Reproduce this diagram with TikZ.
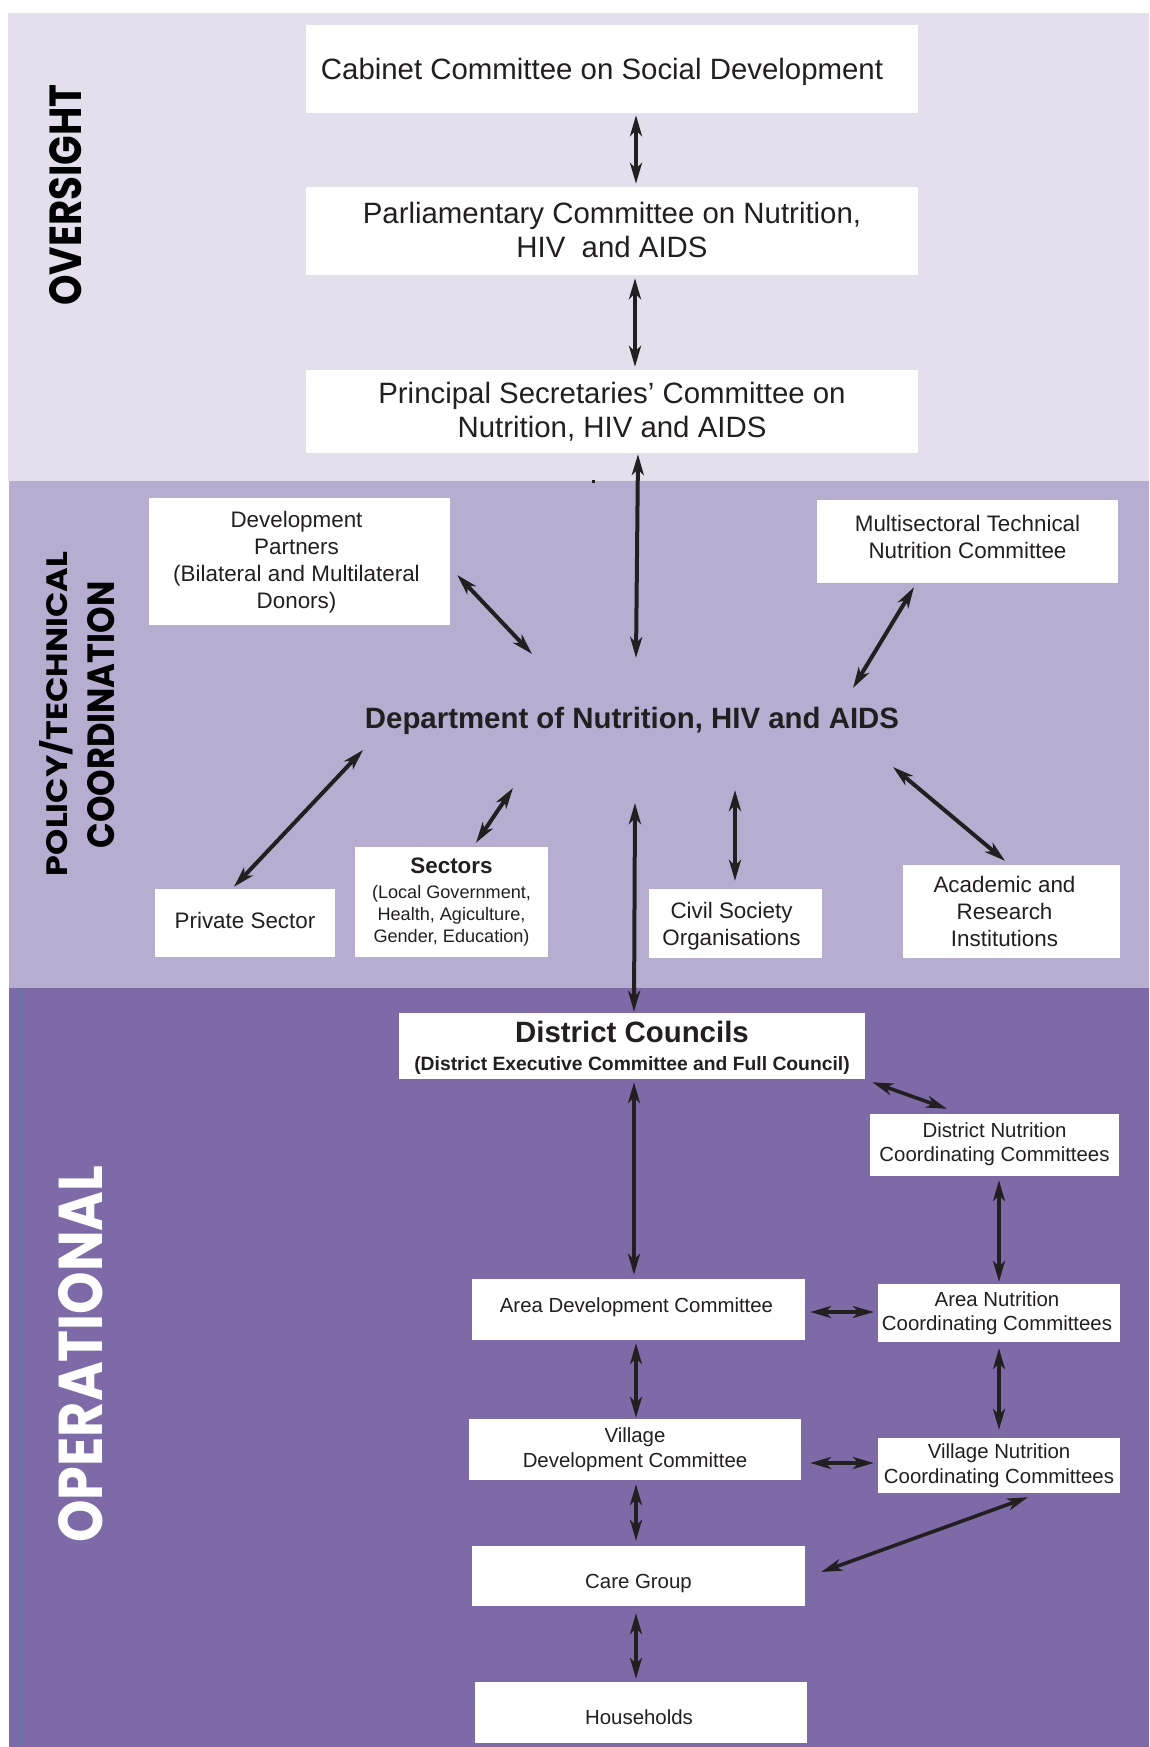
\documentclass[tikz,border=0pt]{standalone}
\usepackage{fontspec}
\setmainfont{Liberation Sans}
\newfontfamily\sidefont{Poppins}
\usetikzlibrary{arrows.meta,calc}
\definecolor{ovc}{HTML}{E4DFEC}
\definecolor{poc}{HTML}{B7ADD1}
\definecolor{opc}{HTML}{7F6AA8}
\definecolor{ink}{HTML}{231F20}
\definecolor{edgeblue}{HTML}{5C7BA8}
\tikzset{
  box/.style={fill=white, inner sep=0pt},
  txt/.style={inner sep=0pt, align=center, text=ink},
  bigtxt/.style={font=\fontsize{29.4}{34.5}\selectfont},
  midtxt/.style={font=\fontsize{22.4}{27}\selectfont},
  optxt/.style={font=\fontsize{20.4}{24.5}\selectfont},
  arr/.style={{Stealth[length=21pt,width=12pt,inset=6pt]}-{Stealth[length=21pt,width=12pt,inset=6pt]}, line width=4pt, draw=ink},
  side/.style={rotate=90, inner sep=0pt}
}
\begin{document}
\begin{tikzpicture}[x=1pt,y=-1pt]
\useasboundingbox (0,0) rectangle (1149,1747);
\fill[white] (0,0) rectangle (1149,1747);
% bands
\fill[ovc] (8,13) rectangle (1149,481);
\fill[poc] (9,481) rectangle (1149,988);
\fill[opc] (9,988) rectangle (1149,1747);
\draw[edgeblue, line width=1.2pt] (20,988) -- (20,1747);
\fill[ink] (592,479.5) rectangle (595,482.5);

% side labels
\node[side] (lov) at (66,195) {\resizebox{221pt}{32pt}{\sidefont\bfseries OVERSIGHT}};
\node[side] (lpol) at (56,714) {\resizebox{324pt}{28pt}{\sidefont\bfseries POLICY/TECHNICAL}};
\node[side] (lcoo) at (101,715) {\resizebox{267pt}{27pt}{\sidefont\bfseries COORDINATION}};
\node[side, text=white] (lop) at (81,1354) {\resizebox{377pt}{44pt}{\sidefont\bfseries OPERATIONAL}};

% oversight boxes
\node[box, minimum width=612pt, minimum height=88pt] (cab) at (612,69) {};
\node[txt, bigtxt] (cabt) at ($(cab)+(-10,3)$) {Cabinet Committee on Social Development};
\node[box, minimum width=612pt, minimum height=88pt] (parl) at (612,231) {};
\node[txt, bigtxt] (parlt) at ($(parl)+(0,-1)$) {Parliamentary Committee on Nutrition,\\HIV \ and AIDS};
\node[box, minimum width=612pt, minimum height=83pt] (prin) at (612,411.5) {};
\node[txt, bigtxt] (print) at (prin) {Principal Secretaries’ Committee on\\Nutrition, HIV and AIDS};

% policy level
\node[box, minimum width=301pt, minimum height=127pt] (dev) at (299.5,561.5) {};
\node[txt, midtxt] (devt) at ($(dev)+(-3,1)$) {Development\\Partners\\(Bilateral and Multilateral\\Donors)};
\node[box, minimum width=301pt, minimum height=83pt] (multi) at (967.5,541.5) {};
\node[txt, midtxt] (multit) at ($(multi)+(0,-5)$) {Multisectoral Technical\\Nutrition Committee};
\node[txt, font=\bfseries\fontsize{29.4}{34}\selectfont] (dept) at (632,721) {Department of Nutrition, HIV and AIDS};
\node[box, minimum width=180pt, minimum height=68pt] (priv) at (245,923) {};
\node[txt, midtxt] (privt) at ($(priv)+(0,-3)$) {Private Sector};
\node[box, minimum width=193pt, minimum height=110pt] (sect) at (451.5,902) {};
\node[txt, font=\fontsize{18.1}{21.7}\selectfont] (sectt) at (sect) {{\bfseries\fontsize{22.4}{21.7}\selectfont Sectors}\\[3pt](Local Government,\\Health, Agiculture,\\Gender, Education)};
\node[box, minimum width=173pt, minimum height=69pt] (civil) at (735.5,923.5) {};
\node[txt, midtxt] (civilt) at ($(civil)+(-4,3)$) {Civil Society\\Organisations};
\node[box, minimum width=217pt, minimum height=93pt] (acad) at (1011.5,911.5) {};
\node[txt, midtxt] (acadt) at ($(acad)+(-7,0)$) {Academic and\\Research\\Institutions};

% operational level
\node[box, minimum width=466pt, minimum height=66pt] (dc) at (632,1046) {};
\node[txt, font=\bfseries\fontsize{19.3}{28}\selectfont] (dct) at ($(dc)+(0,2)$) {{\fontsize{29.4}{28}\selectfont District Councils}\\(District Executive Committee and Full Council)};
\node[box, minimum width=249pt, minimum height=62pt] (dncc) at (994.5,1145) {};
\node[txt, optxt] (dncct) at ($(dncc)+(0,-1)$) {District Nutrition\\Coordinating Committees};
\node[box, minimum width=333pt, minimum height=61pt] (adc) at (638.5,1309.5) {};
\node[txt, optxt] (adct) at ($(adc)+(-2,-2)$) {Area Development Committee};
\node[box, minimum width=242pt, minimum height=58pt] (ancc) at (999,1313) {};
\node[txt, optxt] (ancct) at ($(ancc)+(-2,0)$) {Area Nutrition\\Coordinating Committees};
\node[box, minimum width=332pt, minimum height=61pt] (vdc) at (635,1449.5) {};
\node[txt, optxt] (vdct) at (vdc) {Village\\Development Committee};
\node[box, minimum width=242pt, minimum height=55pt] (vncc) at (999,1465.5) {};
\node[txt, optxt] (vncct) at (vncc) {Village Nutrition\\Coordinating Committees};
\node[box, minimum width=333pt, minimum height=60pt] (care) at (638.5,1576) {};
\node[txt, optxt] (caret) at ($(care)+(0,7)$) {Care Group};
\node[box, minimum width=332pt, minimum height=61pt] (hh) at (641,1712.5) {};
\node[txt, optxt] (hht) at ($(hh)+(-2,5)$) {Households};

% free ends around the department label
\coordinate (dN) at (636,658);
\coordinate (dNW) at (532,654);
\coordinate (dNE) at (853,688);
\coordinate (dSW) at (363,750);
\coordinate (dS1) at (513,788);
\coordinate (dS2) at (735,790);
\coordinate (dSE) at (893,767);
\coordinate (dS) at (635,803);

% connectors
\draw[arr] ([shift={(24,2)}]cab.south) -- ([shift={(24,-3)}]parl.north);
\draw[arr] ([shift={(23,3)}]parl.south) -- ([shift={(23,-3)}]prin.north);
\draw[arr] ([shift={(26,1)}]prin.south) -- (dN);
\draw[arr] ([shift={(7,13.5)}]dev.east) -- (dNW);
\draw[arr] ([shift={(-53.5,4)}]multi.south) -- (dNE);
\draw[arr] (dSW) -- ([shift={(-11,-2)}]priv.north);
\draw[arr] (dS1) -- ([shift={(24.5,-4)}]sect.north);
\draw[arr] (dS2) -- ([shift={(-0.5,-8)}]civil.north);
\draw[arr] (dSE) -- ([shift={(-6.5,-4)}]acad.north);
\draw[arr] (dS) -- ([shift={(2,-1)}]dc.north);

\tikzset{arr/.append style={line width=3.6pt}}
\draw[arr] ([shift={(7,3)}]dc.south east) -- ([shift={(-47.5,-5)}]dncc.north);
\draw[arr] ([shift={(2,3)}]dc.south) -- ([shift={(-4.5,-4)}]adc.north);
\draw[arr] ([shift={(4.5,4)}]dncc.south) -- ([shift={(0,-2)}]ancc.north);
\draw[arr] ([shift={(5,2.5)}]adc.east) -- ([shift={(-4,-1)}]ancc.west);
\draw[arr] ([shift={(-2.5,3)}]adc.south) -- ([shift={(1,-1)}]vdc.north);
\draw[arr] ([shift={(0,6)}]ancc.south) -- ([shift={(0,-8)}]vncc.north);
\draw[arr] ([shift={(9,13.5)}]vdc.east) -- ([shift={(-4,-2.5)}]vncc.west);
\draw[arr] ([shift={(1,4)}]vdc.south) -- ([shift={(-2.5,-5)}]care.north);
\draw[arr] ([shift={(29,4)}]vncc.south) -- ([shift={(16,-4)}]care.east);
\draw[arr] ([shift={(-2.5,7)}]care.south) -- ([shift={(-5,-3)}]hh.north);
\end{tikzpicture}
\end{document}
